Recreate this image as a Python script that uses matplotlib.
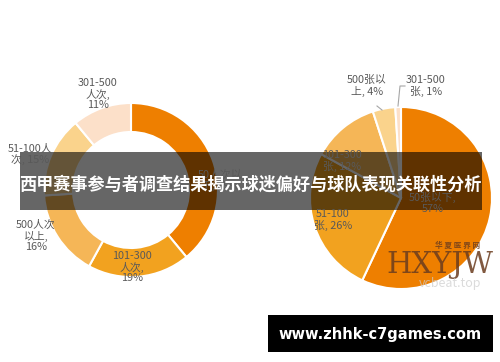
import matplotlib.pyplot as plt
from matplotlib.patches import Rectangle

plt.rcParams['font.family'] = ['Noto Sans CJK SC', 'DejaVu Sans']

# left donut: attendance per match
left_labels = ['50人次以\n下, 39%', '101-300\n人次,\n19%', '500人次\n以上,\n16%', '51-100人\n次, 15%', '301-500\n人次,\n11%']
left_values = [39, 19, 16, 15, 11]
# right pie: tickets bought
right_labels = ['50张以下,\n57%', '51-100\n张, 26%', '101-300\n张, 12%', '500张以\n上, 4%', '301-500\n张, 1%']
right_values = [57, 26, 12, 4, 1]

colors = ['#EE7F00', '#F2A21F', '#F5B657', '#FAD38C', '#FCE0C9']
title = '西甲赛事参与者调查结果揭示球迷偏好与球队表现关联性分析'
site = 'www.zhhk-c7games.com'

W, H = 500, 362
fig = plt.figure(figsize=(W / 100, H / 100), dpi=100)
ax = fig.add_axes([0, 0, 1, 1])
ax.set_xlim(0, W)
ax.set_ylim(0, H)
ax.set_aspect('equal')
ax.axis('off')

def y(py):
    return H - py

txt = dict(color='#595959', fontsize=7.8, ha='center', va='center', linespacing=1.1)

# left donut
ax.pie(left_values, colors=colors, startangle=90, counterclock=False,
       center=(131, y(190)), radius=87, frame=True,
       wedgeprops=dict(width=29, edgecolor='white', linewidth=1.5))
left_pos = [(220, 180), (132, 267), (36, 236), (30, 154), (98, 94)]
for lab, (px, py) in zip(left_labels, left_pos):
    ax.text(px, y(py), lab, **txt)

# right pie
ax.pie(right_values, colors=colors, startangle=90, counterclock=False,
       center=(401, y(198)), radius=91, frame=True,
       wedgeprops=dict(edgecolor='white', linewidth=1.5))
right_pos = [(433, 203), (333, 220), (342, 161), (367, 86), (426, 86)]
for lab, (px, py) in zip(right_labels, right_pos):
    ax.text(px, y(py), lab, **txt)
ax.plot([377, 382], [y(106), y(110)], color='#a6a6a6', lw=0.8)
ax.plot([405, 400, 398], [y(86), y(86), y(106)], color='#a6a6a6', lw=0.8)
ax.set_xlim(0, W)
ax.set_ylim(0, H)

# watermark logo
ax.text(440, y(265), 'HXYJW', family='DejaVu Serif', fontsize=21, color='#6b3c1e',
        ha='center', va='center', alpha=0.85)
ax.text(458, y(245), '华 夏 医 界 网', fontsize=5.5, color='#6b3c1e', ha='center',
        va='center', weight='bold', alpha=0.85)
ax.text(450, y(283), 'vcbeat.top', fontsize=9, color='#cccccc', ha='center', va='center', alpha=0.7)

# banner with title
ax.add_patch(Rectangle((20, y(210)), 462, 58, color='black', alpha=0.6, lw=0))
ax.text(250, y(185), title, color='white', fontsize=12.3, weight='bold',
        ha='center', va='center')

# site box
ax.add_patch(Rectangle((268, y(352)), 225, 37, color='black', lw=0))
ax.text(380, y(334), site, color='white', fontsize=10.5, weight='bold',
        family='DejaVu Sans', ha='center', va='center')

fig.savefig('out.png', dpi=100)
